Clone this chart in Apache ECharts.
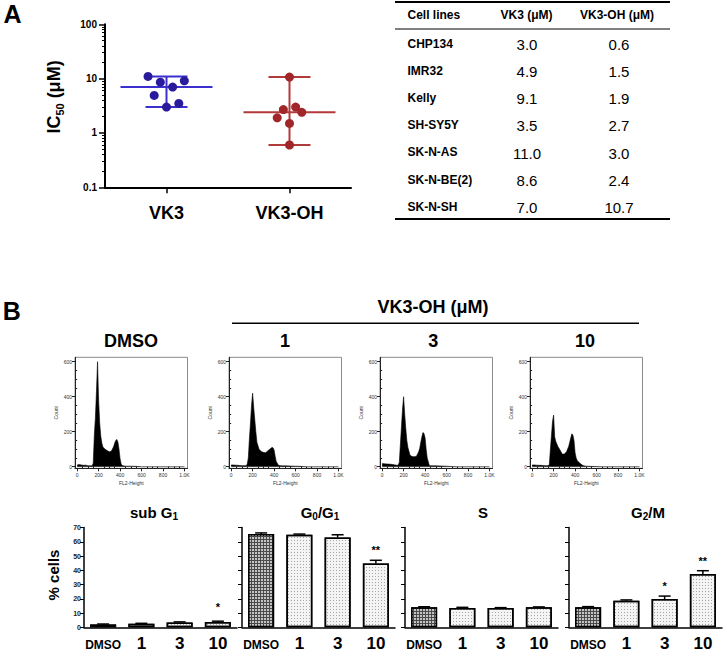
<!DOCTYPE html>
<html><head><meta charset="utf-8">
<script src="https://cdn.jsdelivr.net/npm/echarts@6/dist/echarts.min.js"></script>
<style>html,body{margin:0;padding:0;background:#fff}#c{width:723px;height:654px}</style>
</head><body><div id="c"></div>
<script>
// ---------- Panel A data ----------
const cellLines = ['CHP134','IMR32','Kelly','SH-SY5Y','SK-N-AS','SK-N-BE(2)','SK-N-SH'];
const vk3IC50   = [3.0, 4.9, 9.1, 3.5, 11.0, 8.6, 7.0];
const vk3ohIC50 = [0.6, 1.5, 1.9, 2.7, 3.0, 2.4, 10.7];
const groupNames = ['VK3','VK3-OH'];
const vk3Jitter   = [0, -0.1, 0.145, 0.1, -0.15, -0.05, 0.05];
const vk3ohJitter = [0, 0, -0.1, -0.05, 0.05, 0.1, 0];
const tableHeader = ['Cell lines','VK3 (\u03bcM)','VK3-OH (\u03bcM)'];

// ---------- Panel B histograms ----------
const histTitles = ['DMSO','1','3','10'];
const flBins = [0,20,40,60,80,100,120,140,150,160,170,180,190,200,210,220,230,240,260,280,300,320,340,350,360,370,380,390,400,410,420,440,460,480,500,550,600,650,700,800,900,1000];
const dmsoCounts  = [10,12,10,8,9,6,5,6, 20,180,280,430,600,380,250,175,135,112, 100,92,85,90,115, 135,150,156,140,100,45,15,7, 4,3,3,3, 2,0,0,0, 0,0,0];
const dose1Counts = [10,10,9,8,7,6,6,6, 15,50,160,250,350,420,340,270,200,140, 100,87,82,80,90, 95,100,105,110,108,95,60,30, 8,6,5,5, 4,3,2,0, 0,0,0];
const dose3Counts = [18,17,16,15,14,12,10,8, 10,25,130,230,330,400,300,220,150,110, 65,58,57,60,85, 105,140,170,195,190,165,100,50, 6,6,5,5, 4,3,1,0, 0,0,0];
const dose10Counts= [10,10,9,8,8,7,6,6, 7,12,100,180,260,295,170,145,130,115, 95,72,72,85,115, 140,165,188,180,150,80,50,35, 22,12,5,3, 2,1,0,0, 0,0,0];
const histXTicks = [0,200,400,600,800,1000];
const histYTicks = [0,200,400,600];

// ---------- Panel B bar charts ----------
const doses = ['DMSO','1','3','10'];
const subG1Pct = [2.0, 2.5, 3.3, 3.8];
const subG1Err = [0.3, 0.3, 0.5, 0.5];
const subG1Sig = ['','','','*'];
const g0g1Pct = [65.4, 64.9, 63.0, 44.8];
const g0g1Err = [0.8, 0.5, 1.9, 2.2];
const g0g1Sig = ['','','','**'];
const sPct = [14.0, 13.5, 13.5, 14.0];
const sErr = [0.4, 0.5, 0.3, 0.3];
const sSig = ['','','',''];
const g2mPct = [14.0, 18.6, 19.8, 37.4];
const g2mErr = [0.5, 0.6, 2.1, 2.3];
const g2mSig = ['','','*','**'];

const FONT = '"Liberation Sans", Arial, Helvetica, sans-serif';
const chart = echarts.init(document.getElementById('c'), null, {renderer:'svg', width:723, height:654});

const grids = [], xAxes = [], yAxes = [], series = [];
const noSplit = {show:false};

// ===== Panel A scatter =====
grids.push({left:105, top:24.3, width:246, height:163});
xAxes.push({gridIndex:0, type:'value', min:0, max:2,
  axisLine:{onZero:false, lineStyle:{color:'#000', width:2}},
  axisTick:{customValues:[0.5,1.5], length:6, lineStyle:{color:'#000', width:1.5}},
  axisLabel:{customValues:[0.5,1.5], formatter:v=>groupNames[Math.floor(v)], fontSize:18, fontWeight:'bold', color:'#000', margin:17, fontFamily:FONT},
  splitLine:noSplit});
yAxes.push({gridIndex:0, type:'log', logBase:10, min:0.1, max:100,
  axisLine:{show:true, onZero:false, lineStyle:{color:'#000', width:2}},
  axisTick:{show:true, length:6, lineStyle:{color:'#000', width:1.5}},
  axisLabel:{fontSize:10, fontWeight:'bold', color:'#000', margin:8, fontFamily:FONT, formatter:v=>String(parseFloat((+v).toPrecision(3)))},
  splitLine:noSplit});
const minorLog = [];
[0.1,1,10].forEach(d=>{for(let k=2;k<=9;k++) minorLog.push(Math.log10(k*d));});
yAxes.push({gridIndex:0, type:'value', min:-1, max:2, position:'left',
  axisLine:{show:false}, axisLabel:{show:false}, splitLine:noSplit,
  axisTick:{show:true, customValues:minorLog, length:3, lineStyle:{color:'#000', width:1}}});

const groupSets = [
  {vals:vk3IC50, jit:vk3Jitter, center:0.5, dot:'#2a1b9c', line:'#3b30cf'},
  {vals:vk3ohIC50, jit:vk3ohJitter, center:1.5, dot:'#a1262a', line:'#b23a3a'}
];
function median(a){const s=a.slice().sort((x,y)=>x-y);return s[Math.floor(s.length/2)];}
series.push({type:'custom', xAxisIndex:0, yAxisIndex:0, z:2,
  data: groupSets.map(g=>[g.center, median(g.vals), Math.min(...g.vals), Math.max(...g.vals)]),
  renderItem:(params, api)=>{
    const g = groupSets[params.dataIndex];
    const c = api.coord([api.value(0), api.value(1)]);
    const lo = api.coord([api.value(0), api.value(2)]);
    const hi = api.coord([api.value(0), api.value(3)]);
    const st = {stroke:g.line, lineWidth:2};
    return {type:'group', children:[
      {type:'line', shape:{x1:c[0]-46, y1:c[1], x2:c[0]+46, y2:c[1]}, style:st},
      {type:'line', shape:{x1:lo[0], y1:lo[1], x2:hi[0], y2:hi[1]}, style:st},
      {type:'line', shape:{x1:lo[0]-21, y1:lo[1], x2:lo[0]+21, y2:lo[1]}, style:st},
      {type:'line', shape:{x1:hi[0]-21, y1:hi[1], x2:hi[0]+21, y2:hi[1]}, style:st}
    ]};
  }});
groupSets.forEach(g=>{
  series.push({type:'scatter', xAxisIndex:0, yAxisIndex:0, z:3, symbolSize:9,
    itemStyle:{color:g.dot, opacity:1},
    data: g.vals.map((v,i)=>[g.center + g.jit[i], v])});
});

// ===== Histograms =====
const histLefts = [75, 229, 380, 530];
const histSets = [dmsoCounts, dose1Counts, dose3Counts, dose10Counts];
const minorX = [], minorY = [];
for (let v=50; v<1000; v+=50) if (v%200) minorX.push(v);
for (let v=50; v<600; v+=50) if (v%200) minorY.push(v);
histSets.forEach((counts, p)=>{
  const gi = grids.length;
  grids.push({left:histLefts[p], top:357.3, width:112.5, height:111, show:true, borderColor:'#8a8a8a', borderWidth:1, backgroundColor:'transparent'});
  const xi = xAxes.length, yi = yAxes.length;
  const lab = {fontSize:5, color:'#333', fontFamily:FONT};
  xAxes.push({gridIndex:gi, type:'value', min:-20, max:1028, position:'bottom',
    axisLine:{onZero:false, lineStyle:{color:'#222', width:1}},
    axisTick:{customValues:histXTicks, length:3, lineStyle:{color:'#222', width:1}},
    axisLabel:Object.assign({customValues:histXTicks, margin:4, formatter:v=>v>=1000?'1.0K':String(v)}, lab),
    name:'FL2-Height', nameLocation:'middle', nameGap:12, nameTextStyle:{fontSize:5, color:'#333', fontFamily:FONT},
    splitLine:noSplit});
  xAxes.push({gridIndex:gi, type:'value', min:-20, max:1028, position:'bottom',
    axisLine:{show:false}, axisLabel:{show:false}, splitLine:noSplit,
    axisTick:{customValues:minorX, length:1.5, lineStyle:{color:'#222', width:1}}});
  yAxes.push({gridIndex:gi, type:'value', min:-9, max:625, position:'left',
    axisLine:{show:true, onZero:false, lineStyle:{color:'#222', width:1}},
    axisTick:{show:true, customValues:histYTicks, length:3, lineStyle:{color:'#222', width:1}},
    axisLabel:Object.assign({customValues:histYTicks, margin:3}, lab),
    name:'Count', nameLocation:'middle', nameGap:17, nameRotate:90, nameTextStyle:{fontSize:5, color:'#333', fontFamily:FONT},
    splitLine:noSplit});
  yAxes.push({gridIndex:gi, type:'value', min:-9, max:625, position:'left',
    axisLine:{show:false}, axisLabel:{show:false}, splitLine:noSplit,
    axisTick:{show:true, customValues:minorY, length:1.5, lineStyle:{color:'#222', width:1}}});
  series.push({type:'line', xAxisIndex:xi, yAxisIndex:yi, symbol:'none', silent:true,
    lineStyle:{color:'#000', width:0.6}, areaStyle:{color:'#000', opacity:1},
    data: flBins.map((x,i)=>[x, counts[i]])});
});

// ===== Bar charts =====
const barLefts = [84, 242, 405, 569];
const barSets = [
  {vals:subG1Pct, err:subG1Err, sig:subG1Sig},
  {vals:g0g1Pct, err:g0g1Err, sig:g0g1Sig},
  {vals:sPct, err:sErr, sig:sSig},
  {vals:g2mPct, err:g2mErr, sig:g2mSig}
];
const dmsoStyle = {color:'#4a4a4a', borderColor:'#000', borderWidth:1.5,
  decal:{symbol:'rect', symbolSize:1, color:'#c4c4c4', dashArrayX:[2,1], dashArrayY:[2,1], rotation:0}};
const drugStyle = {color:'#f4f4f4', borderColor:'#000', borderWidth:1.5,
  decal:{symbol:'rect', symbolSize:1, color:'#a8a8a8', dashArrayX:[1,2], dashArrayY:[1,2], rotation:0}};
barSets.forEach((b, p)=>{
  const gi = grids.length;
  grids.push({left:barLefts[p], top:527.5, width:153, height:99.8});
  const xi = xAxes.length, yi = yAxes.length;
  xAxes.push({gridIndex:gi, type:'category', data:doses,
    axisLine:{onZero:false, lineStyle:{color:'#000', width:1.5}},
    axisTick:{alignWithLabel:true, length:4, lineStyle:{color:'#000', width:1}},
    axisLabel:{interval:0, hideOverlap:false, margin:6, color:'#000', fontFamily:FONT,
      formatter:v=> v==='DMSO' ? '{d|DMSO}' : '{n|'+v+'}',
      rich:{d:{fontSize:12, fontWeight:'bold', fontFamily:FONT, color:'#000', lineHeight:20, padding:[3,0,0,0]},
            n:{fontSize:17, fontWeight:'bold', fontFamily:FONT, color:'#000', lineHeight:20}}},
    splitLine:noSplit});
  yAxes.push({gridIndex:gi, type:'value', min:0, max:70, interval:10,
    axisLine:{show:true, onZero:false, lineStyle:{color:'#000', width:1.5}},
    axisTick:{show:true, length:4, lineStyle:{color:'#000', width:1}},
    axisLabel:{show:p===0, fontSize:7, fontWeight:'bold', color:'#222', margin:3, fontFamily:FONT},
    splitLine:noSplit});
  series.push({type:'bar', xAxisIndex:xi, yAxisIndex:yi, barWidth:'68%', z:2,
    data: b.vals.map((v,i)=>({value:v, itemStyle: i===0 ? dmsoStyle : drugStyle}))});
  series.push({type:'custom', xAxisIndex:xi, yAxisIndex:yi, z:3,
    data: b.vals.map((v,i)=>[i, v, b.err[i]]),
    encode:{x:0, y:1},
    renderItem:(params, api)=>{
      const i = params.dataIndex;
      const v = b.vals[i], e = b.err[i];
      const base = api.coord([i, v]);
      const top = api.coord([i, v+e]);
      const st = {stroke:'#000', lineWidth:1.5};
      const ch = [
        {type:'line', shape:{x1:base[0], y1:base[1], x2:top[0], y2:top[1]}, style:st},
        {type:'line', shape:{x1:top[0]-6, y1:top[1], x2:top[0]+6, y2:top[1]}, style:st}
      ];
      if (b.sig[i]) ch.push({type:'text', x:top[0], y:top[1]-(p===0?14:10),
        style:{text:b.sig[i], fontSize:11, fontWeight:'bold', fontFamily:FONT, fill:'#000', align:'center', verticalAlign:'middle'}});
      return {type:'group', children:ch};
    }});
});

// ===== Graphic texts & table =====
const T = (x, y, text, size, weight, opts) => Object.assign({type:'text', x, y,
  style:Object.assign({text, fontSize:size, fontWeight:weight||'bold', fontFamily:FONT, fill:'#000', align:'center', verticalAlign:'middle'}, (opts&&opts.style)||{})},
  opts && opts.rotation ? {rotation:opts.rotation} : {});
const subRich = (big, small, drop) => ({
  a:{fontSize:big, fontWeight:'bold', fontFamily:FONT, fill:'#000', lineHeight:big+2, padding:[0,0,drop,0], verticalAlign:'top'},
  s:{fontSize:small, fontWeight:'bold', fontFamily:FONT, fill:'#000', lineHeight:small, verticalAlign:'bottom'}
});
const graphics = [];
graphics.push(T(12.5, 14, 'A', 25));
graphics.push(T(11.7, 311, 'B', 25));
graphics.push({type:'text', x:55, y:97, rotation:Math.PI/2,
  style:{text:'{a|IC}{s|50}{a| (\u03bcM)}', rich:subRich(18,11,3), fontFamily:FONT, align:'center', verticalAlign:'middle'}});

// table
const tblX0 = 395, tblX1 = 670;
graphics.push({type:'line', shape:{x1:tblX0, y1:2, x2:tblX1, y2:2}, style:{stroke:'#000', lineWidth:2}});
graphics.push({type:'line', shape:{x1:tblX0, y1:29, x2:tblX1, y2:29}, style:{stroke:'#000', lineWidth:1}});
graphics.push({type:'line', shape:{x1:tblX0, y1:219, x2:tblX1, y2:219}, style:{stroke:'#000', lineWidth:2}});
const colName = 407.5, colVk3 = 527, colOh = 619;
graphics.push(T(colName, 15, tableHeader[0], 12, 'bold', {style:{align:'left'}}));
graphics.push(T(526.5, 15, tableHeader[1], 12, 'bold'));
graphics.push(T(617, 15, tableHeader[2], 12, 'bold'));
cellLines.forEach((n,i)=>{
  const y = 43.5 + i*27.2;
  graphics.push(T(colName, y, n, 12, 'bold', {style:{align:'left'}}));
  graphics.push(T(colVk3, y+0.8, vk3IC50[i].toFixed(1), 15, 'normal'));
  graphics.push(T(colOh, y+0.8, vk3ohIC50[i].toFixed(1), 15, 'normal'));
});

// panel B headers
graphics.push(T(433, 306.5, 'VK3-OH (\u03bcM)', 18));
graphics.push({type:'line', shape:{x1:232, y1:323.3, x2:639, y2:323.3}, style:{stroke:'#000', lineWidth:1.5}});
const histTitleX = [131, 285, 433.3, 585];
histTitles.forEach((t,i)=>graphics.push(T(histTitleX[i], 341, t, 18)));

const phaseTitles = [
  {x:154, text:'{a|sub G}{s|1}'},
  {x:320, text:'{a|G}{s|0}{a|/G}{s|1}'},
  {x:483, text:'{a|S}'},
  {x:648, text:'{a|G}{s|2}{a|/M}'}
];
phaseTitles.forEach(pt=>graphics.push({type:'text', x:pt.x, y:513,
  style:{text:pt.text, rich:subRich(15,10,3), fontFamily:FONT, align:'center', verticalAlign:'middle'}}));
graphics.push(T(53, 575, '% cells', 15, 'bold', {rotation:Math.PI/2}));

chart.setOption({
  animation:false,
  backgroundColor:'#fff',
  textStyle:{fontFamily:FONT},
  grid:grids, xAxis:xAxes, yAxis:yAxes, series:series,
  graphic:{elements:graphics}
});
</script></body></html>
